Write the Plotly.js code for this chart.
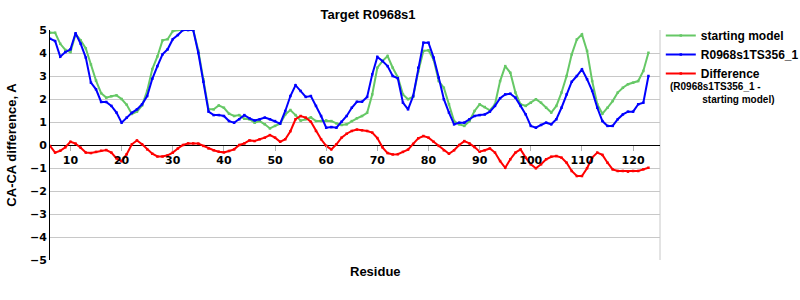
<!DOCTYPE html>
<html>
<head>
<meta charset="utf-8">
<script src="https://cdn.plot.ly/plotly-3.0.1.min.js"></script>
<style>html,body{margin:0;padding:0;background:#fff;}#chart{width:800px;height:300px;}</style>
</head>
<body>
<div id="chart"></div>
<script>
// Residue numbers (first..last)
const firstResidue = 6;
const lastResidue = 123;
const residues = Array.from({length: lastResidue - firstResidue + 1}, (_, i) => firstResidue + i);

const seriesNames = ["starting model", "R0968s1TS356_1", "Difference"];
const differenceNoteLine1 = "(R0968s1TS356_1 -";
const differenceNoteLine2 = "starting model)";
const xTickValues = [10, 20, 30, 40, 50, 60, 70, 80, 90, 100, 110, 120];
const yTickValues = [-5, -4, -3, -2, -1, 0, 1, 2, 3, 4, 5];

// starting model (green), residues 6..123
const startingModel = [
  4.88, 4.88, 4.40, 4.13, 4.04, 4.82, 4.55, 4.20, 3.50, 2.80,
  2.25, 2.06, 2.12, 2.16, 2.00, 1.75, 1.35, 1.45, 1.72, 2.35,
  3.30, 3.85, 4.55, 4.60, 4.95, 5.00, 5.00, 5.00, 5.00, 4.10,
  2.85, 1.55, 1.55, 1.72, 1.62, 1.36, 1.26, 1.30, 1.14, 1.12,
  0.97, 1.04, 0.90, 0.72, 0.83, 0.93, 1.33, 1.52, 1.30, 1.06,
  1.12, 1.20, 1.04, 1.04, 1.07, 1.04, 0.94, 0.87, 0.90, 1.04,
  1.16, 1.26, 1.40, 2.20, 3.36, 3.65, 3.87, 3.36, 2.95, 2.20,
  1.99, 2.10, 3.20, 4.09, 4.12, 3.72, 2.78, 2.49, 1.77, 1.04,
  0.90, 0.83, 1.04, 1.48, 1.77, 1.65, 1.51, 1.77, 2.78, 3.43,
  3.14, 2.28, 1.77, 1.70, 1.84, 1.99, 1.84, 1.62, 1.41, 1.70,
  2.28, 3.00, 3.94, 4.59, 4.81, 4.09, 2.78, 1.77, 1.36, 1.62,
  1.91, 2.28, 2.49, 2.64, 2.71, 2.78, 3.22, 4.01
];

// R0968s1TS356_1 (blue), residues 6..123
const model = [
  4.62, 4.52, 3.84, 4.04, 4.16, 4.86, 4.40, 3.80, 2.71, 2.42,
  1.87, 1.87, 1.70, 1.41, 0.97, 1.19, 1.40, 1.55, 1.77, 2.13,
  2.88, 3.43, 3.94, 4.16, 4.60, 4.78, 5.00, 5.00, 5.00, 4.00,
  2.75, 1.45, 1.30, 1.30, 1.26, 1.04, 0.97, 1.12, 1.30, 1.16,
  1.07, 1.12, 1.19, 1.12, 1.04, 0.93, 1.48, 2.13, 2.60, 2.35,
  2.09, 2.13, 1.70, 1.26, 0.75, 0.78, 0.75, 1.01, 1.26, 1.62,
  1.88, 1.88, 2.09, 3.07, 3.83, 3.65, 3.43, 3.00, 2.90, 1.84,
  1.55, 2.13, 3.36, 4.45, 4.45, 3.80, 2.93, 1.99, 1.41, 0.90,
  0.97, 0.97, 1.12, 1.26, 1.30, 1.33, 1.45, 1.70, 2.03, 2.20,
  2.23, 2.06, 1.70, 1.33, 0.83, 0.75, 0.87, 0.97, 0.90, 1.12,
  1.62, 2.20, 2.75, 3.00, 3.29, 2.86, 2.35, 1.62, 1.04, 0.83,
  0.83, 1.12, 1.33, 1.45, 1.45, 1.77, 1.84, 3.00
];

// Difference (red), residues 6..123
const difference = [
  -0.04, -0.33, -0.25, -0.10, 0.14, 0.06, -0.12, -0.33, -0.35, -0.30,
  -0.25, -0.22, -0.33, -0.58, -0.70, -0.40, 0.03, 0.20, 0.03, -0.19,
  -0.38, -0.50, -0.50, -0.45, -0.33, -0.15, 0.00, 0.07, 0.07, 0.06,
  -0.04, -0.15, -0.23, -0.29, -0.32, -0.26, -0.19, 0.00, 0.07, 0.20,
  0.17, 0.25, 0.32, 0.43, 0.32, 0.14, 0.25, 0.60, 1.12, 1.26,
  1.19, 1.01, 0.61, 0.25, -0.04, -0.19, 0.03, 0.32, 0.49, 0.61,
  0.67, 0.64, 0.61, 0.54, 0.30, -0.10, -0.35, -0.41, -0.40, -0.30,
  -0.20, 0.05, 0.29, 0.39, 0.32, 0.14, -0.04, -0.23, -0.38, -0.23,
  0.00, 0.17, 0.07, -0.09, -0.29, -0.23, -0.15, -0.33, -0.70, -0.99,
  -0.62, -0.33, -0.19, -0.55, -0.84, -1.01, -0.84, -0.62, -0.51, -0.48,
  -0.55, -0.77, -1.13, -1.35, -1.35, -1.01, -0.55, -0.33, -0.43, -0.77,
  -1.06, -1.13, -1.13, -1.16, -1.13, -1.13, -1.06, -0.99
];

const colors = ["#66c866", "#0000ff", "#ff0000"];
const seriesValues = [startingModel, model, difference];

const traces = seriesValues.map((vals, i) => ({
  type: "scatter",
  mode: "lines+markers",
  x: residues,
  y: vals,
  name: seriesNames[i],
  line: {color: colors[i], width: 2},
  marker: {color: colors[i], size: 2.5, symbol: "square"},
  cliponaxis: true
}));

const fontBold = "Liberation Sans, Arial, sans-serif";
const tickFont = {family: "DejaVu Sans, Verdana, sans-serif", size: 11, color: "#000", weight: "bold"};
const nbsp = "\u00a0";

const layout = {
  width: 800,
  height: 300,
  margin: {l: 50, r: 140, t: 30, b: 40},
  paper_bgcolor: "#fff",
  plot_bgcolor: "#fff",
  showlegend: true,
  title: {
    text: "Target R0968s1",
    font: {family: fontBold, size: 13, color: "#000", weight: "bold"},
    xref: "container", x: 0.46, xanchor: "center",
    yref: "container", y: 0.953, yanchor: "middle"
  },
  xaxis: {
    range: [6, 125.26],
    anchor: "free",
    position: 0.5,
    tickmode: "array",
    tickvals: xTickValues,
    ticktext: xTickValues.map(String),
    ticks: "outside",
    ticklen: 5,
    tickcolor: "#b0b0b0",
    showgrid: false,
    zeroline: false,
    showline: false,
    tickfont: tickFont
  },
  yaxis: {
    range: [-5, 5],
    tickmode: "array",
    tickvals: yTickValues,
    ticktext: yTickValues.map(v => v < 0 ? "\u2212" + Math.abs(v) : String(v)),
    ticks: "",
    showgrid: true,
    gridcolor: "#c8c8c8",
    gridwidth: 1,
    zeroline: true,
    zerolinecolor: "#000",
    zerolinewidth: 1,
    showline: true,
    linecolor: "#000",
    linewidth: 1,
    tickfont: tickFont,
    title: {
      text: "CA-CA difference, A",
      font: {family: fontBold, size: 13, color: "#000", weight: "bold"},
      standoff: 10
    }
  },
  legend: {
    xref: "container", yref: "container",
    x: 0.826, y: 0.93,
    xanchor: "left", yanchor: "top",
    font: {family: fontBold, size: 12, color: "#000", weight: "bold"},
    bgcolor: "rgba(0,0,0,0)",
    borderwidth: 0,
    itemwidth: 30,
    tracegroupgap: 0
  },
  shapes: [
    {type: "line", xref: "paper", yref: "paper", x0: 1, x1: 1, y0: 0, y1: 1,
     line: {color: "#c8c8c8", width: 1}, layer: "below"}
  ],
  annotations: [
    {
      text: "Residue", xref: "paper", yref: "paper",
      x: 0.534, y: -0.048, xanchor: "center", yanchor: "middle",
      showarrow: false,
      font: {family: fontBold, size: 13, color: "#000", weight: "bold"}
    },
    {
      text: differenceNoteLine1 + nbsp.repeat(5) + "<br>" + differenceNoteLine2,
      xref: "paper", yref: "paper",
      x: 1.1918, y: 0.726, xanchor: "right", yanchor: "middle",
      align: "right",
      showarrow: false,
      font: {family: fontBold, size: 10, color: "#000", weight: "bold"}
    }
  ]
};

Plotly.newPlot("chart", traces, layout, {displayModeBar: false, staticPlot: true});
</script>
</body>
</html>
